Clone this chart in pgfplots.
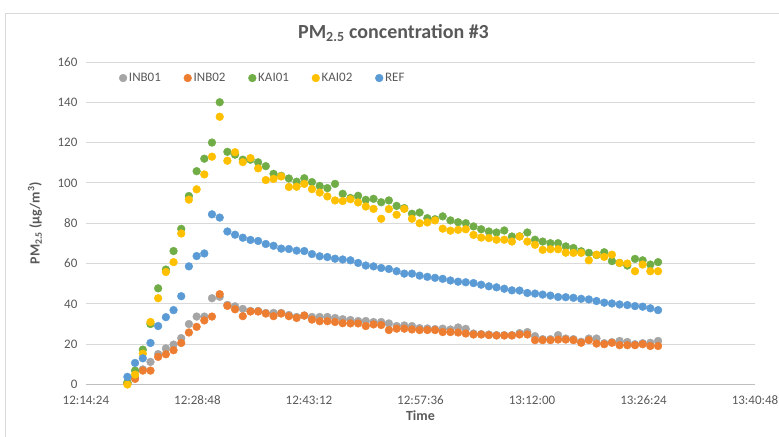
\documentclass[border=0pt]{standalone}
\usepackage{fontspec}
\setmainfont{Carlito}
\usepackage{pgfplots}
\pgfplotsset{compat=1.18}
\usepackage{pgfplotstable}
\definecolor{cINBa}{HTML}{A5A5A5}
\definecolor{cINBb}{HTML}{ED7D31}
\definecolor{cKAIa}{HTML}{70AD47}
\definecolor{cKAIb}{HTML}{FFC000}
\definecolor{cREF}{HTML}{5B9BD5}
\definecolor{txt}{HTML}{595959}
\definecolor{gridc}{HTML}{D9D9D9}

\pgfplotstableread{
t inb01 inb02 kai01 kai02 ref
5.36 1 0.5 1 0 3.8
6.35 3.5 2.8 6.9 4.9 10.7
7.35 7.5 6.9 17.3 15.3 13
8.34 11.2 6.9 30 31 20.6
9.33 15.1 13.7 47.7 42.8 29
10.33 17.9 15 57 55.8 33.4
11.32 19.8 17 66.2 60.7 36.9
12.31 23 20.6 77.2 74.9 43.8
13.30 30 25.8 93.5 91.7 58.6
14.30 33.7 28.6 105.8 96.8 63.7
15.29 33.7 31.8 112 104.2 65
16.28 42.8 33.7 120 113 84.4
17.28 43.5 44.8 140 132.8 82.8
18.27 39.5 39 115.4 111 75.9
19.26 38.8 37.3 114 115.2 74.3
20.26 37.5 33.9 111.5 110.3 72.8
21.25 36.5 36.2 111.5 112.3 71.7
22.24 36.5 36.2 110.2 107.2 71.2
23.23 35.5 35.2 108.3 101.4 69.7
24.23 35.5 33.9 104.5 102 68.8
25.22 35.5 35.2 103.5 103.2 67.4
26.21 34.5 33.9 102.2 98 67.2
27.21 33.5 33 100.6 98.1 66.4
28.20 34.2 34.2 102.3 99.5 66.2
29.19 33.5 32.2 100.4 96.9 64.7
30.19 33.5 31.4 98.5 95.2 63.6
31.18 33.5 31.4 97.4 93.3 63.2
32.17 33 31 99.5 91.3 62.4
33.16 32.4 30.4 94.6 91 62
34.16 32 30.3 92.5 91.9 61.6
35.15 31.5 30.3 93.6 90.3 60.3
36.14 31.5 29 91.6 88.3 59
37.14 31 29.8 92.1 87.1 58.6
38.13 31 29.5 90.4 82.2 57.8
39.12 30.3 27 91.3 87 57.3
40.12 29 27.7 88.6 84.2 56.2
41.11 29.3 27.7 87.5 87.1 55
42.10 29 27.3 84.7 82.2 55
43.09 28 27 85.3 80 54
44.09 27.8 27 82.5 80.4 53.4
45.08 27.5 27 82 81.4 52.9
46.07 27.7 26 83.4 77.3 52.4
47.07 27.3 26 81.4 76.3 51.6
48.06 28.3 25.8 80.5 76.7 51
49.05 27.6 25.3 80 77 50.7
50.05 25.3 24.8 78.4 74.2 50.3
51.04 25 24.8 77 72.9 49.5
52.03 24.8 24.5 75.9 72.6 48.7
53.02 24.5 24.3 75.4 71.8 48.2
54.02 24.5 24.3 76.4 71.8 47.5
55.01 24.5 24.3 73.4 70.9 46.7
56.00 25.5 24.8 73.5 73.4 46.6
57.00 26 24.8 75.4 70.9 45.4
57.99 24 22 71.8 69.3 45.1
58.98 22.5 22 70.9 66.8 44.6
59.98 22.5 22 70.1 67.1 44.1
60.97 24.5 22.3 70.1 67.1 43.4
61.96 22.8 22.3 68.5 65.4 43.3
62.95 22.5 22 67.7 65.3 43
63.95 21.2 20.7 66.1 65.3 42.5
64.94 22.8 22 65.3 61.6 42.2
65.93 22.8 20.3 64.2 64.4 41.4
66.93 20.5 20 65.6 63.3 40.6
67.92 21 20.7 61.2 64.4 40.2
68.91 21.6 19.5 60.3 60.3 39.7
69.91 21.1 19.5 59 60 39.4
70.90 20 19.5 62.3 56.2 38.9
71.89 20.5 20 61.6 59.5 38.6
72.88 20.7 19.1 59.5 56.2 37.8
73.88 21.6 19.1 60.7 56.2 36.9
}\data

\begin{document}
\begin{tikzpicture}
\begin{axis}[
  name=ax,
  at={(0pt,0pt)}, anchor=south west,
  scale only axis, width=670pt, height=323pt,
  xmin=0, xmax=86.4, ymin=0, ymax=160,
  xtick={0,14.4,28.8,43.2,57.6,72,86.4},
  xticklabels={12:14:24,12:28:48,12:43:12,12:57:36,13:12:00,13:26:24,13:40:48},
  ytick={0,20,...,160},
  ymajorgrids, grid style={gridc, line width=0.8pt},
  axis x line*=bottom, axis y line*=left,
  x axis line style={draw=black!25, line width=0.8pt, -},
  y axis line style={draw=none},
  major tick length=0pt,
  /pgf/number format/assume math mode=true,
  tick label style={font=\fontsize{13}{15}\selectfont, text=txt},
  xticklabel style={yshift=-8pt},
  yticklabel style={xshift=-5pt},
  xlabel={Time}, ylabel={PM\textsubscript{2.5} (µg/m\textsuperscript{3})},
  label style={font=\fontsize{14}{16}\selectfont\bfseries, text=txt},
  xlabel style={at={(axis description cs:0.5,-0.096)}, anchor=center},
  ylabel style={at={(axis description cs:-0.076,0.5)}, anchor=center},
  legend columns=5,
  legend style={draw=none, fill=none, at={(axis description cs:0.045,0.95)}, anchor=west,
    font=\fontsize{13}{15}\selectfont, text=txt,
    /tikz/every even column/.append style={column sep=21pt}},
  legend image code/.code={\draw[#1] plot coordinates {(4pt,0pt)};},
  every axis plot/.append style={only marks, mark=*, mark size=3.9pt},
]
\addplot[mark options={draw=cINBa, fill=cINBa}] table[x=t, y=inb01] {\data};
\addlegendentry{INB01}
\addplot[mark options={draw=cINBb, fill=cINBb}] table[x=t, y=inb02] {\data};
\addlegendentry{INB02}
\addplot[mark options={draw=cKAIa, fill=cKAIa}] table[x=t, y=kai01] {\data};
\addlegendentry{KAI01}
\addplot[mark options={draw=cKAIb, fill=cKAIb}] table[x=t, y=kai02] {\data};
\addlegendentry{KAI02}
\addplot[mark options={draw=cREF, fill=cREF}] table[x=t, y=ref] {\data};
\addlegendentry{REF}
\end{axis}
\node[font=\fontsize{20}{24}\selectfont\bfseries, text=txt] at ([xshift=-27pt,yshift=29pt]ax.north) {PM\textsubscript{2.5} concentration \#3};
\draw[line width=0.8pt, gridc] ([xshift=-81pt,yshift=-60pt]ax.south west) -- ([xshift=-81pt,yshift=49pt]ax.north west) -- ([xshift=30pt,yshift=49pt]ax.north east);
\pgfresetboundingbox
\path[use as bounding box] ([xshift=-86pt,yshift=-52pt]ax.south west) rectangle ([xshift=24pt,yshift=62pt]ax.north east);
\end{tikzpicture}
\end{document}
